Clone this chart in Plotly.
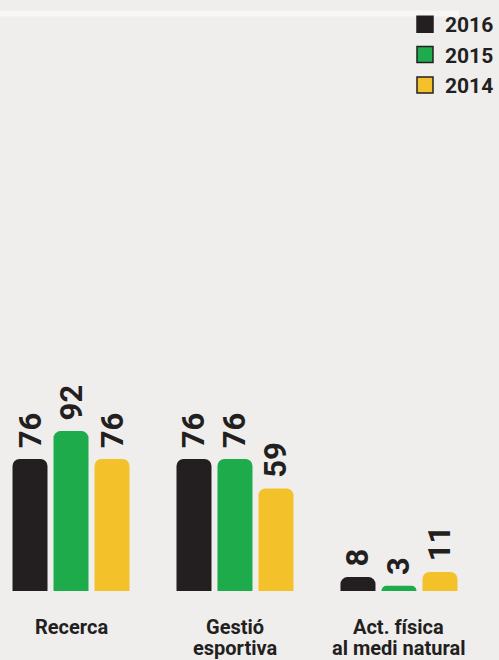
import plotly.graph_objects as go

categories = ["Recerca", "Gestió<br>esportiva", "Act. física<br>al medi natural"]
years = ["2016", "2015", "2014"]
values_2016 = [76, 76, 8]
values_2015 = [92, 76, 3]
values_2014 = [76, 59, 11]
colors = ["#231f20", "#1dab4c", "#f3c22b"]

series = [values_2016, values_2015, values_2014]
x_pos = [0, 1, 2]
ink = "#231f20"

fig = go.Figure()
for year, vals, col in zip(years, series, colors):
    fig.add_trace(go.Bar(
        x=x_pos, y=vals, name=year,
        marker=dict(color=col, line=dict(width=0)),
        text=["\u00a0" + str(v) for v in vals],
        textposition="outside", textangle=-90,
        textfont=dict(family="Roboto", size=31, color=ink, weight="bold"),
        constraintext="none", cliponaxis=False,
        showlegend=False,
    ))
    # legend entry with a bigger square
    fig.add_trace(go.Scatter(
        x=[None], y=[None], mode="markers", name=year,
        marker=dict(symbol="square", size=16, color=col,
                    line=dict(color=ink, width=1.5)),
    ))

# category labels, one annotation per line to keep tight line spacing
for i, cat in enumerate(categories):
    for j, line in enumerate(cat.split("<br>")):
        fig.add_annotation(x=x_pos[i], y=0, xref="x", yref="y", text=line,
                           showarrow=False, yanchor="middle", yshift=-36 - 21 * j,
                           font=dict(family="Roboto", size=20, color=ink, weight="bold"))

# faint light stripe along the top
fig.add_shape(type="line", xref="paper", yref="paper", x0=0, x1=0.92,
              y0=0.977, y1=0.977,
              line=dict(color="rgba(255,255,255,0.5)", width=6))

fig.update_layout(
    width=499, height=660,
    margin=dict(l=0, r=0, t=0, b=69),
    paper_bgcolor="#efeeed", plot_bgcolor="#efeeed",
    barmode="group", bargap=0.25, bargroupgap=0.146,
    barcornerradius=7,
    xaxis=dict(range=[-0.433, 2.61], visible=False, fixedrange=True),
    yaxis=dict(range=[0, 340], visible=False, fixedrange=True),
    legend=dict(x=1.0, xanchor="right", y=0.993, yanchor="top",
                font=dict(family="Roboto", size=21, color=ink, weight="bold"),
                bgcolor="rgba(0,0,0,0)", itemwidth=30, tracegroupgap=0),
    showlegend=True,
)

fig.write_html("out.html", config={"displayModeBar": False},
               post_script="document.body.style.margin='0';")
